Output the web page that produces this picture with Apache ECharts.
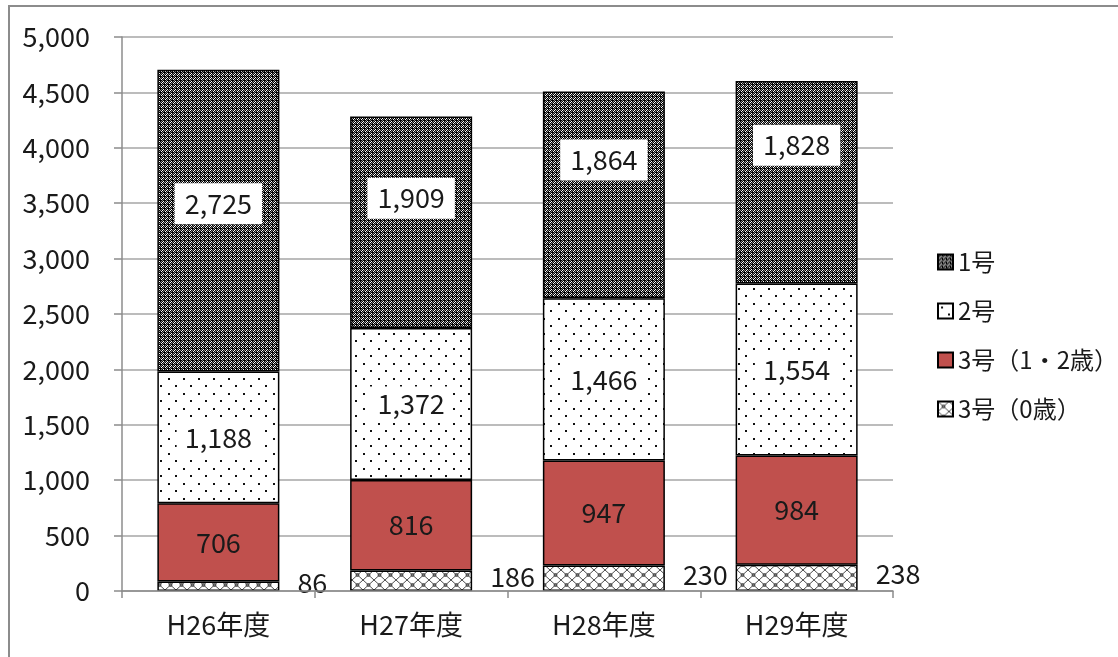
<!DOCTYPE html>
<html>
<head>
<meta charset="utf-8">
<script src="https://cdn.jsdelivr.net/npm/echarts@6/dist/echarts.min.js"></script>
<style>
html,body{margin:0;padding:0;background:#fff;}
#chart{width:1118px;height:657px;}
</style>
</head>
<body>
<div id="chart"></div>
<script>
const categories = ['H26年度', 'H27年度', 'H28年度', 'H29年度'];
const seriesNames = ['1号', '2号', '3号（1・2歳）', '3号（0歳）'];
const values1 = [2725, 1909, 1864, 1828];
const values2 = [1188, 1372, 1466, 1554];
const values3a = [706, 816, 947, 984];
const values3b = [86, 186, 230, 238];
const yTicks = [0, 500, 1000, 1500, 2000, 2500, 3000, 3500, 4000, 4500, 5000];

// label vertical shifts for the top series (style only)
const topLabelShift = [-17, -24, -35, -37];

function tile(w, h, draw) {
  const c = document.createElement('canvas');
  c.width = w; c.height = h;
  const ctx = c.getContext('2d');
  draw(ctx);
  return { image: c, repeat: 'repeat' };
}

const pat1 = tile(8, 8, ctx => {
  ctx.fillStyle = '#000'; ctx.fillRect(0, 0, 8, 8);
  for (let y = 0; y < 8; y++) {
    for (let x = 0; x < 8; x++) {
      if ((x + y) % 2 === 0 && !(x % 4 === 0 && y % 4 === 0)) {
        ctx.fillStyle = ((x + y) % 4 === 0) ? '#ffffff' : '#8a8a8a';
        ctx.fillRect(x, y, 1, 1);
      }
    }
  }
});
const pat2 = tile(15, 15, ctx => {
  ctx.fillStyle = '#fff'; ctx.fillRect(0, 0, 15, 15);
  ctx.fillStyle = '#111';
  ctx.fillRect(3, 3, 2, 2); ctx.fillRect(10, 10, 2, 2);
});
const pat3 = tile(11, 10, ctx => {
  ctx.fillStyle = '#fff'; ctx.fillRect(0, 0, 11, 10);
  ctx.strokeStyle = '#222'; ctx.lineWidth = 0.8;
  ctx.beginPath();
  ctx.moveTo(0, 0); ctx.lineTo(11, 10);
  ctx.moveTo(11, 0); ctx.lineTo(0, 10);
  ctx.stroke();
  ctx.beginPath(); ctx.arc(5.5, 5, 1.5, 0, Math.PI * 2); ctx.stroke();
});

const fmt = p => Number(p.value).toLocaleString('en-US');
const FONT = '"Noto Sans CJK JP", "Noto Sans", sans-serif';
const TXT = '#1a1a1a';

const baseItem = { borderColor: '#000', borderWidth: 1.5 };

const chart = echarts.init(document.getElementById('chart'));
chart.setOption({
  animation: false,
  textStyle: { fontFamily: FONT, color: TXT },
  graphic: [{
    type: 'rect', z: -10, silent: true,
    shape: { x: 9, y: 6, width: 1300, height: 800 },
    style: { fill: 'none', stroke: '#8c8c8c', lineWidth: 2 }
  }],
  grid: { left: 122, right: 225, top: 37, bottom: 66, containLabel: false },
  legend: {
    orient: 'vertical',
    left: 932, top: 245,
    itemWidth: 15, itemHeight: 15, itemGap: 25,
    icon: 'rect',
    data: seriesNames,
    textStyle: { fontFamily: FONT, fontSize: 24, color: TXT }
  },
  xAxis: {
    type: 'category',
    data: categories,
    axisLine: { lineStyle: { color: '#8c8c8c', width: 1.5 } },
    axisTick: { show: true, length: 7, lineStyle: { color: '#8c8c8c', width: 1.5 } },
    axisLabel: { fontSize: 27, color: TXT, margin: 20, fontFamily: FONT },
    z: 10
  },
  yAxis: {
    type: 'value',
    min: yTicks[0], max: yTicks[yTicks.length - 1], interval: 500,
    axisLine: { show: true, lineStyle: { color: '#8c8c8c', width: 1.5 } },
    axisTick: { show: true, length: 8, lineStyle: { color: '#8c8c8c', width: 1.5 } },
    axisLabel: { fontSize: 27, color: TXT, margin: 32, fontFamily: FONT,
      formatter: v => v.toLocaleString('en-US') },
    splitLine: { lineStyle: { color: '#a6a6a6', width: 1.5 } }
  },
  series: [
    {
      name: seriesNames[3], type: 'bar', stack: 'total', barWidth: '63.3%',
      data: values3b,
      itemStyle: Object.assign({ color: pat3 }, baseItem),
      label: { show: true, position: 'right', distance: 18, offset: [0, -4],
        fontSize: 27, color: TXT, fontFamily: FONT, formatter: fmt }
    },
    {
      name: seriesNames[2], type: 'bar', stack: 'total',
      data: values3a,
      itemStyle: Object.assign({ color: '#C0504D' }, baseItem),
      label: { show: true, position: 'inside', fontSize: 27, color: TXT,
        fontFamily: FONT, formatter: fmt }
    },
    {
      name: seriesNames[1], type: 'bar', stack: 'total',
      data: values2,
      itemStyle: Object.assign({ color: pat2 }, baseItem),
      label: { show: true, position: 'inside', fontSize: 27, color: TXT,
        fontFamily: FONT, formatter: fmt, backgroundColor: '#fff', padding: [4, 8] }
    },
    {
      name: seriesNames[0], type: 'bar', stack: 'total',
      data: values1.map((v, i) => ({ value: v, label: { offset: [0, topLabelShift[i]] } })),
      itemStyle: Object.assign({ color: pat1 }, baseItem),
      label: { show: true, position: 'inside', fontSize: 27, color: TXT,
        fontFamily: FONT, formatter: fmt, backgroundColor: '#fff', padding: [7, 10] }
    }
  ]
});
</script>
</body>
</html>
